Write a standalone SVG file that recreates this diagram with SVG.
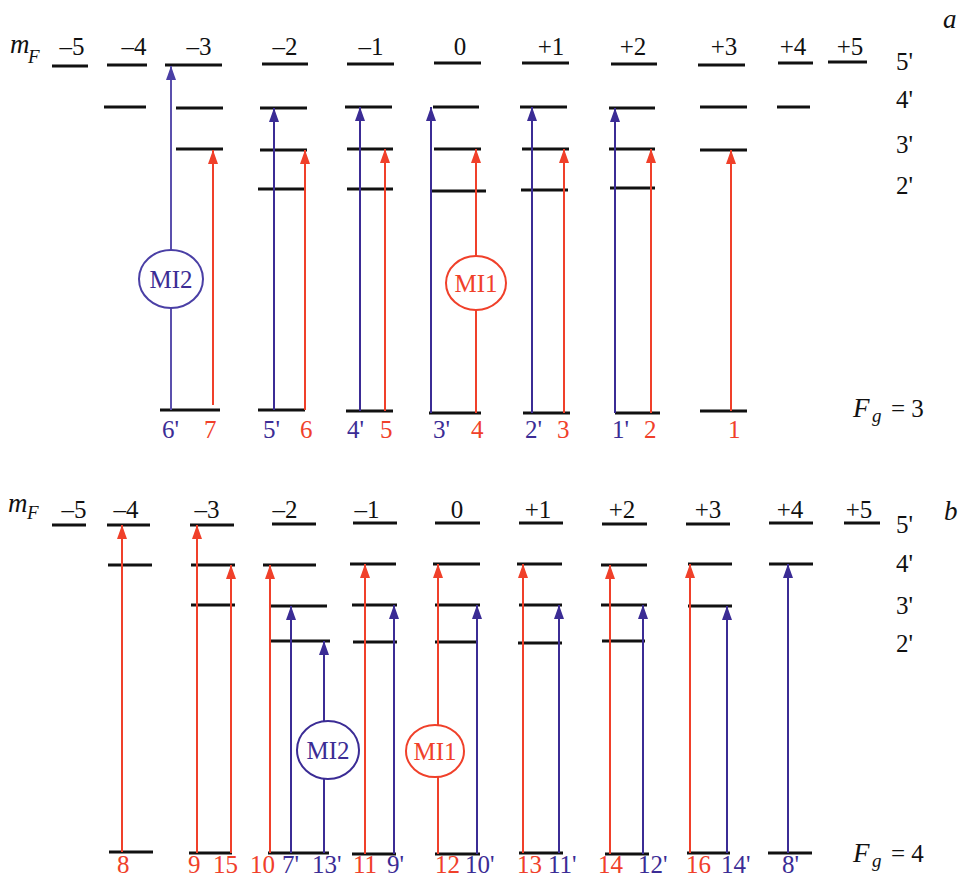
<svg xmlns="http://www.w3.org/2000/svg" width="960" height="879" viewBox="0 0 960 879">
<style>
.lv{stroke:#111;stroke-width:3;fill:none}
.r{stroke:#f0402a;stroke-width:2;fill:none;marker-end:url(#ar)}
.b{stroke:#3b2c95;stroke-width:2;fill:none;marker-end:url(#ab)}
.bl{stroke:#5b50ad;stroke-width:2;fill:none;marker-end:url(#abl)}
text{font-family:"Liberation Serif","Times New Roman",serif;font-size:25px}
.k{fill:#111}
.tr{fill:#f0402a}
.tb{fill:#3b2c95}
.c{text-anchor:middle}
.it{font-style:italic}
.big{font-size:27px}
.sub{font-size:19px}
</style>
<defs>
<marker id="ar" markerUnits="userSpaceOnUse" markerWidth="14" markerHeight="10" refX="14" refY="5" orient="auto" viewBox="0 0 14 10"><path d="M0,0 L14,5 L0,10 z" fill="#f0402a"/></marker>
<marker id="ab" markerUnits="userSpaceOnUse" markerWidth="14" markerHeight="10" refX="14" refY="5" orient="auto" viewBox="0 0 14 10"><path d="M0,0 L14,5 L0,10 z" fill="#3b2c95"/></marker>
<marker id="abl" markerUnits="userSpaceOnUse" markerWidth="14" markerHeight="10" refX="14" refY="5" orient="auto" viewBox="0 0 14 10"><path d="M0,0 L14,5 L0,10 z" fill="#4a3fa5"/></marker>
</defs>

<!-- Panel a -->
<g id="a-header">
<text x="10" y="53" class="k it big">m</text><text x="28" y="63" class="k it sub">F</text>
<text x="72" y="55" class="k c">–5</text>
<text x="134" y="55" class="k c">–4</text>
<text x="199" y="55" class="k c">–3</text>
<text x="285" y="55" class="k c">–2</text>
<text x="371" y="55" class="k c">–1</text>
<text x="460" y="55" class="k c">0</text>
<text x="551" y="55" class="k c">+1</text>
<text x="633" y="55" class="k c">+2</text>
<text x="724" y="55" class="k c">+3</text>
<text x="793" y="55" class="k c">+4</text>
<text x="850" y="55" class="k c">+5</text>
<text x="943" y="28" class="k it big">a</text>
<text x="896" y="70" class="k">5'</text>
<text x="896" y="108" class="k">4'</text>
<text x="896" y="153" class="k">3'</text>
<text x="896" y="194" class="k">2'</text>
<text x="853" y="417" class="k it big">F</text><text x="872" y="422" class="k it sub">g</text><text x="891" y="417" class="k">= 3</text>
</g>
<g id="a-col-m5"><line class="lv" x1="52" y1="66" x2="88" y2="66"/></g>
<g id="a-col-m4"><line class="lv" x1="107" y1="65" x2="147" y2="65"/><line class="lv" x1="104" y1="107" x2="146" y2="107"/></g>
<g id="a-col-m3"><line class="lv" x1="165" y1="65" x2="222" y2="65"/><line class="lv" x1="176" y1="108" x2="223" y2="108"/><line class="lv" x1="176" y1="149" x2="223" y2="149"/><line class="lv" x1="160" y1="410" x2="220" y2="410"/></g>
<g id="a-col-m2"><line class="lv" x1="262" y1="64" x2="308" y2="64"/><line class="lv" x1="260" y1="108" x2="307" y2="108"/><line class="lv" x1="260" y1="150" x2="307" y2="150"/><line class="lv" x1="258" y1="189" x2="305" y2="189"/><line class="lv" x1="258" y1="410" x2="305" y2="410"/></g>
<g id="a-col-m1"><line class="lv" x1="347" y1="64" x2="394" y2="64"/><line class="lv" x1="345" y1="107" x2="392" y2="107"/><line class="lv" x1="347" y1="149" x2="393" y2="149"/><line class="lv" x1="347" y1="189" x2="393" y2="189"/><line class="lv" x1="346" y1="411" x2="393" y2="411"/></g>
<g id="a-col-0"><line class="lv" x1="434" y1="63" x2="481" y2="63"/><line class="lv" x1="433" y1="107" x2="479" y2="107"/><line class="lv" x1="434" y1="149" x2="481" y2="149"/><line class="lv" x1="432" y1="191" x2="486" y2="191"/><line class="lv" x1="429" y1="413" x2="481" y2="413"/></g>
<g id="a-col-p1"><line class="lv" x1="522" y1="63" x2="569" y2="63"/><line class="lv" x1="520" y1="107" x2="567" y2="107"/><line class="lv" x1="522" y1="149" x2="569" y2="149"/><line class="lv" x1="521" y1="190" x2="568" y2="190"/><line class="lv" x1="523" y1="413" x2="570" y2="413"/></g>
<g id="a-col-p2"><line class="lv" x1="611" y1="64" x2="657" y2="64"/><line class="lv" x1="609" y1="108" x2="655" y2="108"/><line class="lv" x1="609" y1="149" x2="655" y2="149"/><line class="lv" x1="610" y1="188" x2="655" y2="188"/><line class="lv" x1="615" y1="413" x2="660" y2="413"/></g>
<g id="a-col-p3"><line class="lv" x1="698" y1="65" x2="745" y2="65"/><line class="lv" x1="700" y1="107" x2="747" y2="107"/><line class="lv" x1="700" y1="150" x2="747" y2="150"/><line class="lv" x1="700" y1="411" x2="747" y2="411"/></g>
<g id="a-col-p4"><line class="lv" x1="778" y1="63" x2="813" y2="63"/><line class="lv" x1="777" y1="107" x2="810" y2="107"/></g>
<g id="a-col-p5"><line class="lv" x1="828" y1="62" x2="867" y2="62"/></g>

<g id="a-connectors">
<line class="bl" x1="171" y1="410" x2="171" y2="66"/>
<line class="r" x1="213" y1="405" x2="213" y2="150"/>
<line class="b" x1="274" y1="410" x2="274" y2="108"/>
<line class="r" x1="305" y1="410" x2="305" y2="150"/>
<line class="b" x1="360" y1="411" x2="360" y2="107"/>
<line class="r" x1="385" y1="411" x2="385" y2="149"/>
<line class="b" x1="431" y1="413" x2="431" y2="107"/>
<line class="r" x1="476" y1="413" x2="476" y2="149"/>
<line class="b" x1="532" y1="413" x2="532" y2="107"/>
<line class="r" x1="564" y1="413" x2="564" y2="149"/>
<line class="b" x1="615" y1="413" x2="615" y2="108"/>
<line class="r" x1="651" y1="413" x2="651" y2="149"/>
<line class="r" x1="731" y1="411" x2="731" y2="150"/>
</g>
<g id="a-MI2"><ellipse cx="171" cy="279" rx="32" ry="29" fill="#fff" stroke="#4a3fa5" stroke-width="2"/><text x="171" y="288" class="tb c">MI2</text></g>
<g id="a-MI1"><ellipse cx="476" cy="283" rx="30" ry="27" fill="#fff" stroke="#f0402a" stroke-width="2"/><text x="476" y="292" class="tr c">MI1</text></g>
<g id="a-labels">
<text x="162" y="438" class="tb">6'</text>
<text x="204" y="438" class="tr">7</text>
<text x="263" y="438" class="tb">5'</text>
<text x="300" y="438" class="tr">6</text>
<text x="347" y="438" class="tb">4'</text>
<text x="380" y="438" class="tr">5</text>
<text x="433" y="438" class="tb">3'</text>
<text x="471" y="438" class="tr">4</text>
<text x="525" y="438" class="tb">2'</text>
<text x="557" y="438" class="tr">3</text>
<text x="612" y="438" class="tb">1'</text>
<text x="644" y="438" class="tr">2</text>
<text x="728" y="438" class="tr">1</text>
</g>

<!-- Panel b -->
<g id="b-header">
<text x="8" y="512" class="k it big">m</text><text x="27" y="519" class="k it sub">F</text>
<text x="74" y="518" class="k c">–5</text>
<text x="126" y="518" class="k c">–4</text>
<text x="207" y="518" class="k c">–3</text>
<text x="285" y="518" class="k c">–2</text>
<text x="367" y="518" class="k c">–1</text>
<text x="457" y="518" class="k c">0</text>
<text x="538" y="518" class="k c">+1</text>
<text x="622" y="518" class="k c">+2</text>
<text x="708" y="518" class="k c">+3</text>
<text x="790" y="518" class="k c">+4</text>
<text x="859" y="518" class="k c">+5</text>
<text x="944" y="520" class="k it big">b</text>
<text x="896" y="533" class="k">5'</text>
<text x="896" y="572" class="k">4'</text>
<text x="896" y="614" class="k">3'</text>
<text x="896" y="652" class="k">2'</text>
<text x="853" y="862" class="k it big">F</text><text x="872" y="867" class="k it sub">g</text><text x="891" y="862" class="k">= 4</text>
</g>
<g id="b-col-m5"><line class="lv" x1="52" y1="525" x2="86" y2="525"/></g>
<g id="b-col-m4"><line class="lv" x1="107" y1="525" x2="150" y2="525"/><line class="lv" x1="108" y1="565" x2="152" y2="565"/><line class="lv" x1="109" y1="852" x2="153" y2="852"/></g>
<g id="b-col-m3"><line class="lv" x1="190" y1="525" x2="234" y2="525"/><line class="lv" x1="191" y1="565" x2="235" y2="565"/><line class="lv" x1="191" y1="605" x2="235" y2="605"/><line class="lv" x1="189" y1="853" x2="232" y2="853"/></g>
<g id="b-col-m2"><line class="lv" x1="272" y1="524" x2="316" y2="524"/><line class="lv" x1="263" y1="565" x2="316" y2="565"/><line class="lv" x1="270" y1="606" x2="327" y2="606"/><line class="lv" x1="270" y1="641" x2="330" y2="641"/><line class="lv" x1="268" y1="853" x2="329" y2="853"/></g>
<g id="b-col-m1"><line class="lv" x1="353" y1="523" x2="397" y2="523"/><line class="lv" x1="350" y1="564" x2="396" y2="564"/><line class="lv" x1="352" y1="605" x2="397" y2="605"/><line class="lv" x1="353" y1="642" x2="397" y2="642"/><line class="lv" x1="352" y1="854" x2="396" y2="854"/></g>
<g id="b-col-0"><line class="lv" x1="435" y1="523" x2="480" y2="523"/><line class="lv" x1="433" y1="564" x2="480" y2="564"/><line class="lv" x1="435" y1="605" x2="480" y2="605"/><line class="lv" x1="435" y1="642" x2="477" y2="642"/><line class="lv" x1="435" y1="854" x2="480" y2="854"/></g>
<g id="b-col-p1"><line class="lv" x1="519" y1="523" x2="563" y2="523"/><line class="lv" x1="517" y1="564" x2="562" y2="564"/><line class="lv" x1="519" y1="605" x2="562" y2="605"/><line class="lv" x1="518" y1="643" x2="562" y2="643"/><line class="lv" x1="519" y1="853" x2="563" y2="853"/></g>
<g id="b-col-p2"><line class="lv" x1="602" y1="524" x2="647" y2="524"/><line class="lv" x1="601" y1="565" x2="647" y2="565"/><line class="lv" x1="601" y1="605" x2="647" y2="605"/><line class="lv" x1="602" y1="641" x2="645" y2="641"/><line class="lv" x1="605" y1="854" x2="649" y2="854"/></g>
<g id="b-col-p3"><line class="lv" x1="686" y1="524" x2="730" y2="524"/><line class="lv" x1="688" y1="564" x2="732" y2="564"/><line class="lv" x1="688" y1="606" x2="732" y2="606"/><line class="lv" x1="687" y1="853" x2="730" y2="853"/></g>
<g id="b-col-p4"><line class="lv" x1="769" y1="523" x2="813" y2="523"/><line class="lv" x1="769" y1="564" x2="813" y2="564"/><line class="lv" x1="768" y1="853" x2="812" y2="853"/></g>
<g id="b-col-p5"><line class="lv" x1="844" y1="523" x2="880" y2="523"/></g>

<g id="b-connectors">
<line class="r" x1="122" y1="852" x2="122" y2="525"/>
<line class="r" x1="197" y1="853" x2="197" y2="525"/>
<line class="r" x1="231" y1="853" x2="231" y2="565"/>
<line class="r" x1="270" y1="853" x2="270" y2="565"/>
<line class="b" x1="291" y1="853" x2="291" y2="606"/>
<line class="b" x1="324" y1="853" x2="324" y2="641"/>
<line class="r" x1="365" y1="854" x2="365" y2="564"/>
<line class="b" x1="394" y1="854" x2="394" y2="605"/>
<line class="r" x1="438" y1="854" x2="438" y2="564"/>
<line class="b" x1="477" y1="854" x2="477" y2="605"/>
<line class="r" x1="523" y1="853" x2="523" y2="564"/>
<line class="b" x1="559" y1="853" x2="559" y2="605"/>
<line class="r" x1="610" y1="854" x2="610" y2="565"/>
<line class="b" x1="643" y1="854" x2="643" y2="605"/>
<line class="r" x1="690" y1="853" x2="690" y2="564"/>
<line class="b" x1="727" y1="853" x2="727" y2="606"/>
<line class="b" x1="788" y1="853" x2="788" y2="564"/>
</g>
<g id="b-MI2"><ellipse cx="328" cy="750" rx="31" ry="29" fill="#fff" stroke="#3b2c95" stroke-width="2"/><text x="328" y="759" class="tb c">MI2</text></g>
<g id="b-MI1"><ellipse cx="435" cy="751" rx="29" ry="26" fill="#fff" stroke="#f0402a" stroke-width="2"/><text x="435" y="760" class="tr c">MI1</text></g>
<g id="b-labels">
<text x="117" y="873" class="tr">8</text>
<text x="188" y="873" class="tr">9</text>
<text x="213" y="873" class="tr">15</text>
<text x="250" y="873" class="tr">10</text>
<text x="282" y="873" class="tb">7'</text>
<text x="312" y="873" class="tb">13'</text>
<text x="353" y="873" class="tr">11</text>
<text x="387" y="873" class="tb">9'</text>
<text x="435" y="873" class="tr">12</text>
<text x="465" y="873" class="tb">10'</text>
<text x="517" y="873" class="tr">13</text>
<text x="548" y="873" class="tb">11'</text>
<text x="598" y="873" class="tr">14</text>
<text x="638" y="873" class="tb">12'</text>
<text x="686" y="873" class="tr">16</text>
<text x="721" y="873" class="tb">14'</text>
<text x="782" y="873" class="tb">8'</text>
</g>
</svg>
